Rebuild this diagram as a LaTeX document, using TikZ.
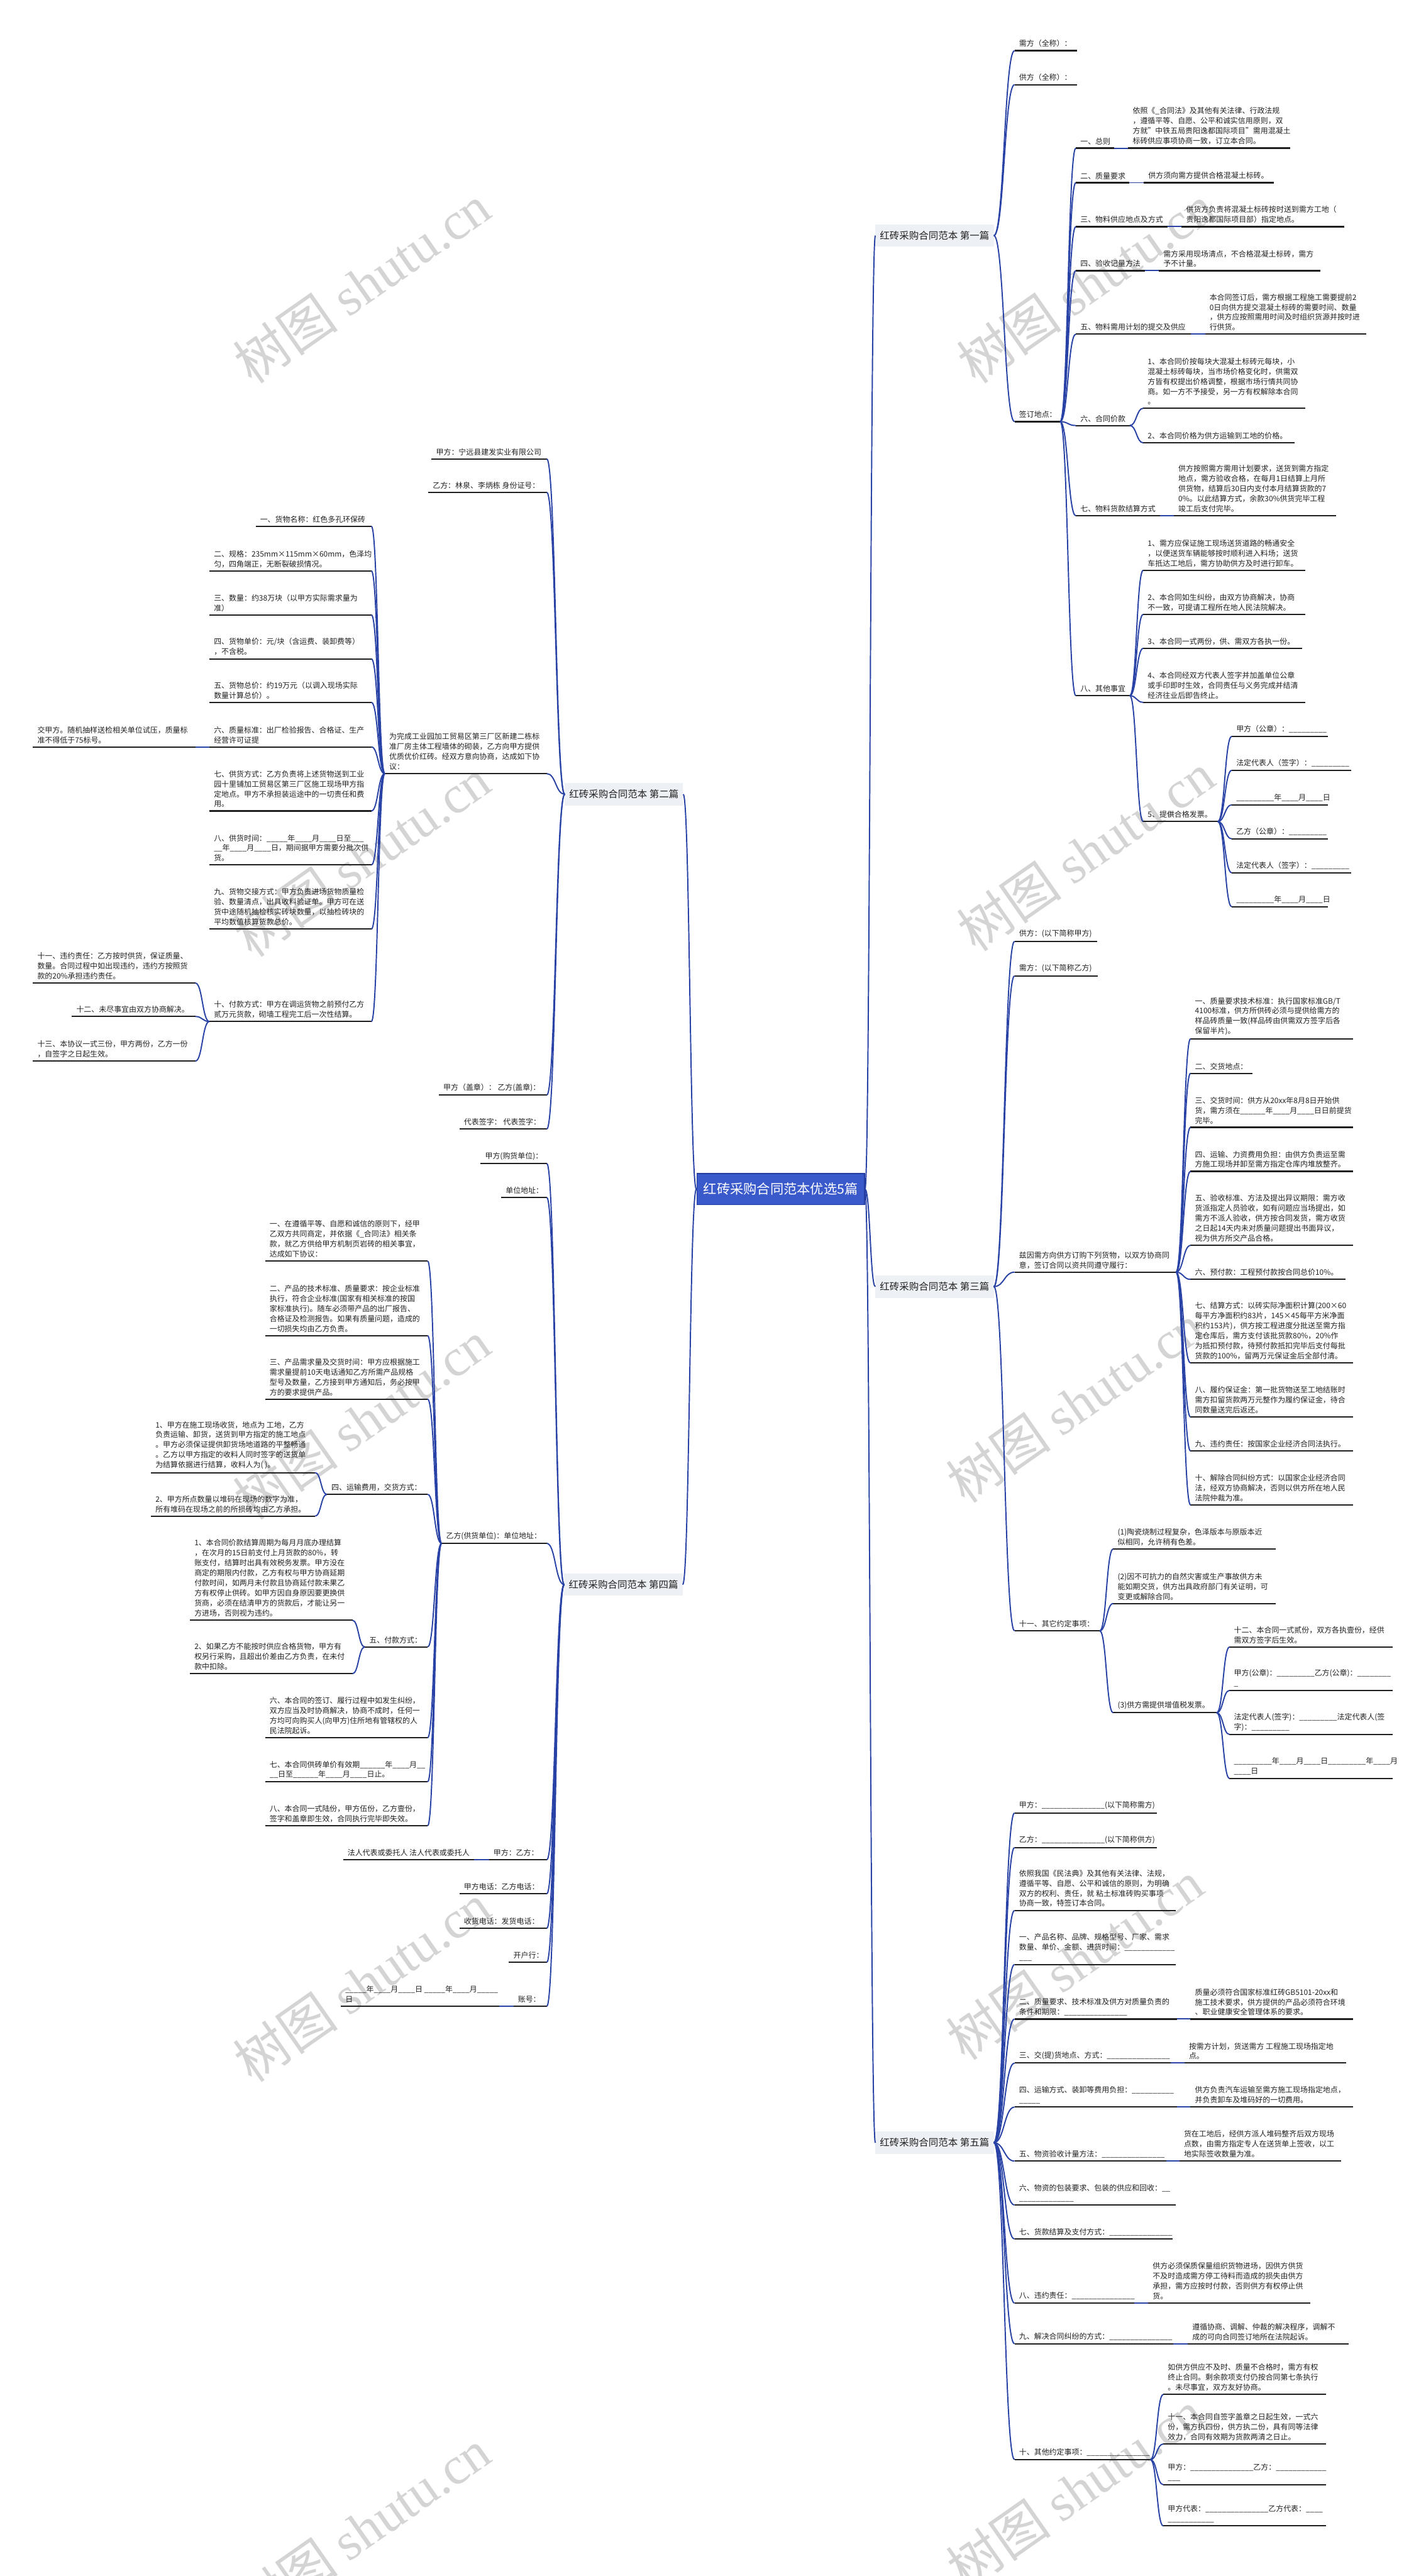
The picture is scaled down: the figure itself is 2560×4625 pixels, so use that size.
\documentclass[tikz,border=0pt]{standalone}
\usepackage{fontspec}
\setmainfont{Noto Sans CJK SC}
\newfontfamily\wmf{Liberation Serif}
\usetikzlibrary{calc}
\ExplSyntaxOn
\cs_new:Npn \blk #1 {\prg_replicate:nn{#1}{\textunderscore}}
\ExplSyntaxOff
\definecolor{connc}{RGB}{40,66,165}
\definecolor{rootc}{RGB}{58,90,204}
\definecolor{rootd}{RGB}{35,60,160}
\definecolor{lvc}{RGB}{237,240,244}
\definecolor{txc}{RGB}{34,34,34}
\tikzset{
  uline/.style={line width=2.5pt, black!88},
  conn/.style={line width=2.2pt, connc},
  txt/.style={inner sep=0pt, align=left, text=txc, font=\fontsize{13.5}{18}\selectfont},
  lv/.style={fill=lvc, text=txc, font=\fontsize{17.5}{20}\selectfont, inner xsep=8pt, inner ysep=0pt, minimum height=40pt},
  rt/.style={fill=rootc, draw=rootd, line width=1.5pt, text=white, font=\fontsize{24}{28}\selectfont, inner xsep=12pt, inner ysep=0pt, minimum height=56pt},
  wm/.style={rotate=35, text=black!17, font=\fontsize{95}{95}\selectfont, inner sep=0pt}
}
\newcommand\nd[5]{%
  \coordinate (#1-l) at (#2,#4);
  \coordinate (#1-r) at (#3,#4);
  \draw[uline] (#1-l) -- (#1-r);
  \node[txt,anchor=south west] (#1) at ({#2+8},{#4-6}) {#5};
}
\newcommand\cn[2]{\draw[conn] let \p1=(#1), \p2=(#2) in (\p1) .. controls ({(\x1+\x2)/2},\y1) and ({(\x1+\x2)/2},\y2) .. (\p2);}
\begin{document}
\begin{tikzpicture}[x=1pt,y=-1pt]
\useasboundingbox (0,0) rectangle (2560,4625);
\fill[white] (0,0) rectangle (2560,4625);
% watermarks
\node[wm] (w1) at (650,510) {树图 {\wmf shutu.cn}};
\node[wm] (w2) at (650,1540) {树图 {\wmf shutu.cn}};
\node[wm] (w3) at (650,2550) {树图 {\wmf shutu.cn}};
\node[wm] (w4) at (650,3560) {树图 {\wmf shutu.cn}};
\node[wm] (w5) at (650,4540) {树图 {\wmf shutu.cn}};
\node[wm] (w6) at (1950,510) {树图 {\wmf shutu.cn}};
\node[wm] (w7) at (1950,1530) {树图 {\wmf shutu.cn}};
\node[wm] (w8) at (1930,2520) {树图 {\wmf shutu.cn}};
\node[wm] (w9) at (1930,3520) {树图 {\wmf shutu.cn}};
\node[wm] (w10) at (1930,4470) {树图 {\wmf shutu.cn}};

% root and level 1
\node[rt] (root) at (1402,2135) {红砖采购合同范本优选5篇};
\node[lv,anchor=west] (s1) at (1572,423) {红砖采购合同范本 第一篇};
\node[lv,anchor=west] (s3) at (1572,2310) {红砖采购合同范本 第三篇};
\node[lv,anchor=west] (s5) at (1572,3847) {红砖采购合同范本 第五篇};
\node[lv,anchor=east] (s2) at (1227,1426) {红砖采购合同范本 第二篇};
\node[lv,anchor=east] (s4) at (1226,2845) {红砖采购合同范本 第四篇};

% ===== Section 1 =====
\nd{a1}{1822}{1934}{91}{需方（全称）：}
\nd{a2}{1822}{1934}{152}{供方（全称）：}
\nd{a3}{1822}{1904}{757}{签订地点：}
\nd{a31}{1932}{2001}{266}{一、总则}
\nd{a31c}{2026}{2317}{266}{依照《\_合同法》及其他有关法律、行政法规\\，遵循平等、自愿、公平和诚实信用原则，双\\方就"中铁五局贵阳逸都国际项目"需用混凝土\\标砖供应事项协商一致，订立本合同。}
\nd{a32}{1932}{2028}{328}{二、质量要求}
\nd{a32c}{2054}{2288}{328}{供方须向需方提供合格混凝土标砖。}
\nd{a33}{1932}{2097}{407}{三、物料供应地点及方式}
\nd{a33c}{2122}{2414}{407}{供货方负责将混凝土标砖按时送到需方工地（\\贵阳逸都国际项目部）指定地点。}
\nd{a34}{1932}{2056}{486}{四、验收记量方法}
\nd{a34c}{2081}{2371}{486}{需方采用现场清点，不合格混凝土标砖，需方\\予不计量。}
\nd{a35}{1932}{2139}{600}{五、物料需用计划的提交及供应}
\nd{a35c}{2164}{2454}{600}{本合同签订后，需方根据工程施工需要提前2\\0日向供方提交混凝土标砖的需要时间、数量\\，供方应按照需用时间及时组织货源并按时进\\行供货。}
\nd{a36}{1932}{2029}{764}{六、合同价款}
\nd{a361}{2053}{2344}{733}{1、本合同价按每块大混凝土标砖元每块，小\\混凝土标砖每块，当市场价格变化时，供需双\\方皆有权提出价格调整，根据市场行情共同协\\商。如一方不予接受，另一方有权解除本合同\\。}
\nd{a362}{2053}{2325}{795}{2、本合同价格为供方运输到工地的价格。}
\nd{a37}{1932}{2083}{926}{七、物料货款结算方式}
\nd{a37c}{2108}{2399}{926}{供方按照需方需用计划要求，送货到需方指定\\地点，需方验收合格，在每月1日结算上月所\\供货物，结算后30日内支付本月结算货款的7\\0\%。以此结算方式，余款30\%供货完毕工程\\竣工后支付完毕。}
\nd{a38}{1932}{2029}{1249}{八、其他事宜}
\nd{a381}{2053}{2344}{1024}{1、需方应保证施工现场送货道路的畅通安全\\，以便送货车辆能够按时顺利进入料场；送货\\车抵达工地后，需方协助供方及时进行卸车。}
\nd{a382}{2053}{2344}{1103}{2、本合同如生纠纷，由双方协商解决，协商\\不一致，可提请工程所在地人民法院解决。}
\nd{a383}{2053}{2338}{1164}{3、本合同一式两份，供、需双方各执一份。}
\nd{a384}{2053}{2344}{1261}{4、本合同经双方代表人签字并加盖单位公章\\或手印即时生效，合同责任与义务完成并结清\\经济往业后即告终止。}
\nd{a385}{2053}{2187}{1475}{5、提供合格发票。}
\nd{a3851}{2212}{2385}{1322}{甲方（公章）：\blk{9}}
\nd{a3852}{2212}{2426}{1383}{法定代表人（签字）：\blk{9}}
\nd{a3853}{2212}{2385}{1445}{\blk{9}年\blk{4}月\blk{4}日}
\nd{a3854}{2212}{2385}{1506}{乙方（公章）：\blk{9}}
\nd{a3855}{2212}{2426}{1567}{法定代表人（签字）：\blk{9}}
\nd{a3856}{2212}{2385}{1628}{\blk{9}年\blk{4}月\blk{4}日}

% ===== Section 2 =====
\nd{b1}{775}{982}{824}{甲方：宁远县建发实业有限公司}
\nd{b2}{769}{982}{884}{乙方：林泉、李炳栋 身份证号：}
\nd{b3}{691}{982}{1389}{为完成工业园加工贸易区第三厂区新建二栋标\\准厂房主体工程墙体的砌装，乙方向甲方提供\\优质优价红砖。经双方意向协商，达成如下协\\议：}
\nd{b31}{459}{667}{945}{一、货物名称：红色多孔环保砖}
\nd{b32}{376}{667}{1025}{二、规格：235mm×115mm×60mm，色泽均\\匀，四角端正，无断裂破损情况。}
\nd{b33}{376}{667}{1104}{三、数量：约38万块（以甲方实际需求量为\\准）}
\nd{b34}{376}{667}{1183}{四、货物单价：元/块（含运费、装卸费等）\\，不含税。}
\nd{b35}{376}{667}{1261}{五、货物总价：约19万元（以调入现场实际\\数量计算总价）。}
\nd{b36}{376}{667}{1341}{六、质量标准：出厂检验报告、合格证、生产\\经营许可证提}
\nd{b36c}{59}{351}{1341}{交甲方。随机抽样送检相关单位试压，质量标\\准不得低于75标号。}
\nd{b37}{376}{667}{1456}{七、供货方式：乙方负责将上述货物送到工业\\园十里铺加工贸易区第三厂区施工现场甲方指\\定地点。甲方不承担装运途中的一切责任和费\\用。}
\nd{b38}{376}{667}{1553}{八、供货时间：\blk{5}年\blk{4}月\blk{4}日至\blk{3}\\\blk{2}年\blk{4}月\blk{4}日，期间据甲方需要分批次供\\货。}
\nd{b39}{376}{667}{1668}{九、货物交接方式：甲方负责进场货物质量检\\验、数量清点，出具收料验证单。甲方可在送\\货中途随机抽检核实砖块数量，以抽检砖块的\\平均数值核算货款总价。}
\nd{b310}{376}{667}{1834}{十、付款方式：甲方在调运货物之前预付乙方\\贰万元货款，砌墙工程完工后一次性结算。}
\nd{b3101}{59}{351}{1765}{十一、违约责任：乙方按时供货，保证质量、\\数量。合同过程中如出现违约，违约方按照货\\款的20\%承担违约责任。}
\nd{b3102}{129}{351}{1825}{十二、未尽事宜由双方协商解决。}
\nd{b3103}{59}{351}{1905}{十三、本协议一式三份，甲方两份，乙方一份\\，自签字之日起生效。}
\nd{b4}{788}{982}{1966}{甲方（盖章）： 乙方(盖章)：}
\nd{b5}{825}{982}{2027}{代表签字： 代表签字：}

% ===== Section 3 =====
\nd{c1}{1822}{1970}{1690}{供方：(以下简称甲方)}
\nd{c2}{1822}{1971}{1752}{需方：(以下简称乙方)}
\nd{c3}{1822}{2112}{2284}{兹因需方向供方订购下列货物，以双方协商同\\意，签订合同以资共同遵守履行：}
\nd{c31}{2138}{2430}{1865}{一、质量要求技术标准：执行国家标准GB/T\\4100标准，供方所供砖必须与提供给需方的\\样品砖质量一致(样品砖由供需双方签字后各\\保留半片)。}
\nd{c32}{2138}{2249}{1927}{二、交货地点：}
\nd{c33}{2138}{2430}{2024}{三、交货时间：供方从20xx年8月8日开始供\\货，需方须在\blk{6}年\blk{4}月\blk{4}日日前提货\\完毕。}
\nd{c34}{2138}{2430}{2103}{四、运输、力资费用负担：由供方负责运至需\\方施工现场并卸至需方指定仓库内堆放整齐。}
\nd{c35}{2138}{2430}{2236}{五、验收标准、方法及提出异议期限：需方收\\货派指定人员验收，如有问题应当场提出，如\\需方不派人验收，供方按合同发货，需方收货\\之日起14天内未对质量问题提出书面异议，\\视为供方所交产品合格。}
\nd{c36}{2138}{2416}{2297}{六、预付款：工程预付款按合同总价10\%。}
\nd{c37}{2138}{2430}{2447}{七、结算方式：以砖实际净面积计算(200×60\\每平方净面积约83片，145×45每平方米净面\\积约153片)，供方按工程进度分批送至需方指\\定仓库后，需方支付该批货款80\%，20\%作\\为抵扣预付款，待预付款抵扣完毕后支付每批\\货款的100\%，留两万元保证金后全部付清。}
\nd{c38}{2138}{2430}{2544}{八、履约保证金：第一批货物送至工地结账时\\需方扣留货款两万元整作为履约保证金，待合\\同数量送完后返还。}
\nd{c39}{2138}{2430}{2605}{九、违约责任：按国家企业经济合同法执行。}
\nd{c310}{2138}{2430}{2702}{十、解除合同纠纷方式：以国家企业经济合同\\法，经双方协商解决，否则以供方所在地人民\\法院仲裁为准。}
\nd{c4}{1822}{1975}{2928}{十一、其它约定事项：}
\nd{c41}{1999}{2291}{2781}{(1)陶瓷烧制过程复杂，色泽版本与原版本近\\似相同，允许稍有色差。}
\nd{c42}{1999}{2291}{2879}{(2)因不可抗力的自然灾害或生产事故供方未\\能如期交货，供方出具政府部门有关证明，可\\变更或解除合同。}
\nd{c43}{1999}{2185}{3075}{(3)供方需提供增值税发票。}
\nd{c431}{2208}{2501}{2957}{十二、本合同一式贰份，双方各执壹份，经供\\需双方签字后生效。}
\nd{c432}{2208}{2501}{3035}{甲方(公章)：\blk{9}乙方(公章)：\blk{8}\\\blk{1}}
\nd{c433}{2208}{2501}{3114}{法定代表人(签字)：\blk{9}法定代表人(签\\字)：\blk{9}}
\nd{c434}{2208}{2501}{3193}{\blk{9}年\blk{4}月\blk{4}日\blk{9}年\blk{4}月\\\blk{4}日}

% ===== Section 4 =====
\nd{d1}{863}{982}{2089}{甲方(购货单位)：}
\nd{d2}{900}{982}{2150}{单位地址：}
\nd{d3}{793}{982}{2771}{乙方(供货单位)：单位地址：}
\nd{d31}{476}{768}{2264}{一、在遵循平等、自愿和诚信的原则下，经甲\\乙双方共同商定，并依据《\_合同法》相关条\\款，就乙方供给甲方机制页岩砖的相关事宜，\\达成如下协议：}
\nd{d32}{476}{768}{2398}{二、产品的技术标准、质量要求：按企业标准\\执行，符合企业标准(国家有相关标准的按国\\家标准执行)。随车必须带产品的出厂报告、\\合格证及检测报告。如果有质量问题，造成的\\一切损失均由乙方负责。}
\nd{d33}{476}{768}{2512}{三、产品需求量及交货时间：甲方应根据施工\\需求量提前10天电话通知乙方所需产品规格\\型号及数量，乙方接到甲方通知后，务必按甲\\方的要求提供产品。}
\nd{d34}{587}{768}{2683}{四、运输费用，交货方式：}
\nd{d341}{271}{566}{2644}{1、甲方在施工现场收货，地点为 工地，乙方\\负责运输、卸货，送货到甲方指定的施工地点\\。甲方必须保证提供卸货场地道路的平整畅通\\。乙方以甲方指定的收料人同时签字的送货单\\为结算依据进行结算，收料人为( )。}
\nd{d342}{271}{566}{2722}{2、甲方所点数量以堆码在现场的数字为准，\\所有堆码在现场之前的所损砖均由乙方承担。}
\nd{d35}{655}{768}{2957}{五、付款方式：}
\nd{d351}{341}{633}{2909}{1、本合同价款结算周期为每月月底办理结算\\，在次月的15日前支付上月货款的80\%，转\\账支付，结算时出具有效税务发票。甲方没在\\商定的期限内付款，乙方有权与甲方协商延期\\付款时间，如两月未付款且协商延付款未果乙\\方有权停止供砖。如甲方因自身原因要更换供\\货商，必须在结清甲方的货款后，才能让另一\\方进场，否则视为违约。}
\nd{d352}{341}{633}{3005}{2、如果乙方不能按时供应合格货物，甲方有\\权另行采购，且超出价差由乙方负责，在未付\\款中扣除。}
\nd{d36}{476}{768}{3120}{六、本合同的签订、履行过程中如发生纠纷，\\双方应当及时协商解决，协商不成时，任何一\\方均可向购买人(向甲方)住所地有管辖权的人\\民法院起诉。}
\nd{d37}{476}{768}{3199}{七、本合同供砖单价有效期\blk{6}年\blk{4}月\blk{2}\\\blk{2}日至\blk{6}年\blk{4}月\blk{4}日止。}
\nd{d38}{476}{768}{3278}{八、本合同一式陆份，甲方伍份，乙方壹份，\\签字和盖章即生效，合同执行完毕即失效。}
\nd{d4}{878}{982}{3339}{甲方：乙方：}
\nd{d4c}{616}{851}{3339}{法人代表或委托人 法人代表或委托人}
\nd{d5}{825}{982}{3400}{甲方电话：乙方电话：}
\nd{d6}{825}{982}{3462}{收货电话：发货电话：}
\nd{d7}{914}{982}{3523}{开户行：}
\nd{d8}{922}{982}{3602}{账号：}
\nd{d8c}{612}{896}{3602}{\blk{5}年\blk{4}月\blk{4}日 \blk{5}年\blk{4}月\blk{5}\\日}

% ===== Section 5 =====
\nd{e1}{1822}{2078}{3255}{甲方：\blk{15}(以下简称需方)}
\nd{e2}{1822}{2078}{3317}{乙方：\blk{15}(以下简称供方)}
\nd{e3}{1822}{2112}{3430}{依照我国《民法典》及其他有关法律、法规，\\遵循平等、自愿、公平和诚信的原则，为明确\\双方的权利、责任，就 粘土标准砖购买事项\\协商一致，特签订本合同。}
\nd{e4}{1822}{2112}{3527}{一、产品名称、品牌、规格型号、厂家、需求\\数量、单价、金额、进货时间：\blk{12}\\\blk{3}}
\nd{e5}{1822}{2114}{3625}{二、质量要求、技术标准及供方对质量负责的\\条件和期限：\blk{15}}
\nd{e5c}{2138}{2430}{3625}{质量必须符合国家标准红砖GB5101-20xx和\\施工技术要求，供方提供的产品必须符合环境\\、职业健康安全管理体系的要求。}
\nd{e6}{1822}{2102}{3704}{三、交(提)货地点、方式：\blk{15}}
\nd{e6c}{2127}{2418}{3704}{按需方计划，货送需方 工程施工现场指定地\\点。}
\nd{e7}{1822}{2114}{3783}{四、运输方式、装卸等费用负担：\blk{10}\\\blk{5}}
\nd{e7c}{2138}{2430}{3783}{供方负责汽车运输至需方施工现场指定地点，\\并负责卸车及堆码好的一切费用。}
\nd{e8}{1822}{2094}{3880}{五、物资验收计量方法：\blk{15}}
\nd{e8c}{2118}{2408}{3880}{货在工地后，经供方派人堆码整齐后双方现场\\点数，由需方指定专人在送货单上签收，以工\\地实际签收数量为准。}
\nd{e9}{1822}{2112}{3959}{六、物资的包装要求、包装的供应和回收：\blk{2}\\\blk{13}}
\nd{e10}{1822}{2106}{4020}{七、货款结算及支付方式：\blk{15}}
\nd{e11}{1822}{2037}{4135}{八、违约责任：\blk{15}}
\nd{e11c}{2062}{2353}{4135}{供方必须保质保量组织货物进场，因供方供货\\不及时造成需方停工待料而造成的损失由供方\\承担，需方应按时付款，否则供方有权停止供\\货。}
\nd{e12}{1822}{2107}{4208}{九、解决合同纠纷的方式：\blk{15}}
\nd{e12c}{2133}{2422}{4208}{遵循协商、调解、仲裁的解决程序，调解不\\成的可向合同签订地所在法院起诉。}
\nd{e13}{1822}{2066}{4416}{十、其他约定事项：\blk{15}}
\nd{e131}{2089}{2381}{4299}{如供方供应不及时、质量不合格时，需方有权\\终止合同。剩余款项支付仍按合同第七条执行\\。未尽事宜，双方友好协商。}
\nd{e132}{2089}{2381}{4388}{十一、本合同自签字盖章之日起生效，一式六\\份，需方执四份，供方执二份，具有同等法律\\效力，合同有效期为货款两清之日止。}
\nd{e133}{2089}{2381}{4461}{甲方：\blk{15}乙方：\blk{12}\\\blk{3}}
\nd{e134}{2089}{2381}{4535}{甲方代表：\blk{15}乙方代表：\blk{4}\\\blk{11}}

% ===== connectors =====
\cn{root.east}{s1.west}
\cn{root.east}{s3.west}
\cn{root.east}{s5.west}
\cn{root.west}{s2.east}
\cn{root.west}{s4.east}
% section 1
\foreach \k in {a1,a2,a3} {\cn{s1.east}{\k-l}}
\foreach \k in {a31,a32,a33,a34,a35,a36,a37,a38} {\cn{a3-r}{\k-l}}
\foreach \k in {a31,a32,a33,a34,a35,a37} {\cn{\k-r}{\k c-l}}
\foreach \k in {a361,a362} {\cn{a36-r}{\k-l}}
\foreach \k in {a381,a382,a383,a384,a385} {\cn{a38-r}{\k-l}}
\foreach \k in {a3851,a3852,a3853,a3854,a3855,a3856} {\cn{a385-r}{\k-l}}
% section 2
\foreach \k in {b1,b2,b3,b4,b5} {\cn{s2.west}{\k-r}}
\foreach \k in {b31,b32,b33,b34,b35,b36,b37,b38,b39,b310} {\cn{b3-l}{\k-r}}
\cn{b36-l}{b36c-r}
\foreach \k in {b3101,b3102,b3103} {\cn{b310-l}{\k-r}}
% section 3
\foreach \k in {c1,c2,c3,c4} {\cn{s3.east}{\k-l}}
\foreach \k in {c31,c32,c33,c34,c35,c36,c37,c38,c39,c310} {\cn{c3-r}{\k-l}}
\foreach \k in {c41,c42,c43} {\cn{c4-r}{\k-l}}
\foreach \k in {c431,c432,c433,c434} {\cn{c43-r}{\k-l}}
% section 4
\foreach \k in {d1,d2,d3,d4,d5,d6,d7,d8} {\cn{s4.west}{\k-r}}
\foreach \k in {d31,d32,d33,d34,d35,d36,d37,d38} {\cn{d3-l}{\k-r}}
\foreach \k in {d341,d342} {\cn{d34-l}{\k-r}}
\foreach \k in {d351,d352} {\cn{d35-l}{\k-r}}
\cn{d4-l}{d4c-r}
\cn{d8-l}{d8c-r}
% section 5
\foreach \k in {e1,e2,e3,e4,e5,e6,e7,e8,e9,e10,e11,e12,e13} {\cn{s5.east}{\k-l}}
\foreach \k in {e5,e6,e7,e8,e11,e12} {\cn{\k-r}{\k c-l}}
\foreach \k in {e131,e132,e133,e134} {\cn{e13-r}{\k-l}}
\end{tikzpicture}
\end{document}
